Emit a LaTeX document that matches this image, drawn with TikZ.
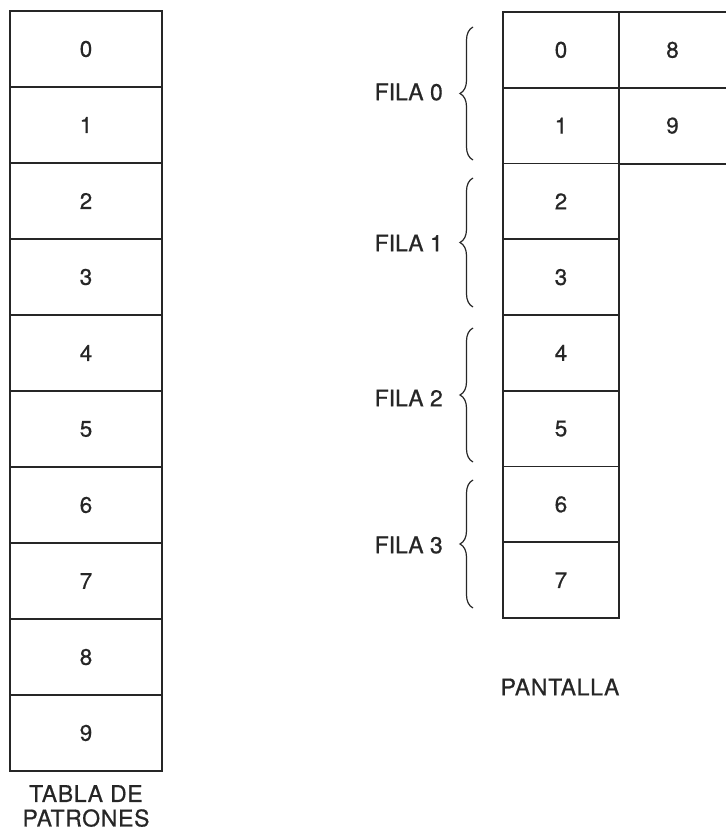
\documentclass[tikz,border=0pt]{standalone}
\usepackage{fontspec}
\setmainfont[FakeBold=0.6]{TeX Gyre Heros}
\usetikzlibrary{decorations.pathreplacing}
\definecolor{ink}{HTML}{262626}
\begin{document}
\begin{tikzpicture}[x=1pt,y=-1pt,
  numfont/.style={font=\fontsize{22.5}{26}\selectfont, text=ink},
  lblfont/.style={font=\addfontfeature{LetterSpace=3}\fontsize{23}{24.5}\selectfont, text=ink},
  tcell/.style={draw=ink, line width=1.7pt, rectangle, minimum width=152pt, minimum height=76pt, inner sep=0pt, numfont},
  pcell/.style={draw=ink, line width=1.7pt, rectangle, minimum width=116pt, minimum height=75.75pt, inner sep=0pt, numfont},
  rcell/.style={rectangle, minimum width=107pt, minimum height=75.75pt, inner sep=0pt, numfont},
  rline/.style={draw=ink, line width=1.7pt},
  bracestyle/.style={draw=ink, line width=1.2pt, decorate, decoration={brace, amplitude=13pt}},
  fila/.style={anchor=east, inner sep=0pt, font=\fontsize{23}{24}\selectfont, text=ink}
]
\useasboundingbox[fill=white] (0,0) rectangle (726,832);

% Tabla de patrones
\foreach \i in {0,...,9}
  \node[tcell] (t\i) at (86,{49+76*\i}) {\i};
\node[lblfont, align=center, inner sep=0pt] (tabla) at (86,806) {TABLA DE\\PATRONES};

% Pantalla
\foreach \i in {0,...,7}
  \node[pcell] (p\i) at (561,{12+37.875+75.75*\i}) {\i};
\node[rcell] (r8) at (672.5,{12+37.875}) {8};
\node[rcell] (r9) at (672.5,{12+37.875+75.75}) {9};
\draw[rline] (r8.north west) -- (r8.north east);
\draw[rline] (r8.south west) -- (r8.south east);
\draw[rline] (r9.south west) -- (r9.south east);
\node[lblfont, inner sep=0pt] (pantalla) at (560,687) {PANTALLA};

% Braces
\coordinate (b0t) at (473,27);  \coordinate (b0b) at (473,160);
\coordinate (b1t) at (473,178); \coordinate (b1b) at (473,307);
\coordinate (b2t) at (473,328); \coordinate (b2b) at (473,462);
\coordinate (b3t) at (473,480); \coordinate (b3b) at (473,608);
\draw[bracestyle] (b0b) -- (b0t);
\draw[bracestyle] (b1b) -- (b1t);
\draw[bracestyle] (b2b) -- (b2t);
\draw[bracestyle] (b3b) -- (b3t);
\node[fila] (f0) at (443,92) {FILA 0};
\node[fila] (f1) at (443,243) {FILA 1};
\node[fila] (f2) at (443,398) {FILA 2};
\node[fila] (f3) at (443,545) {FILA 3};
\end{tikzpicture}
\end{document}
